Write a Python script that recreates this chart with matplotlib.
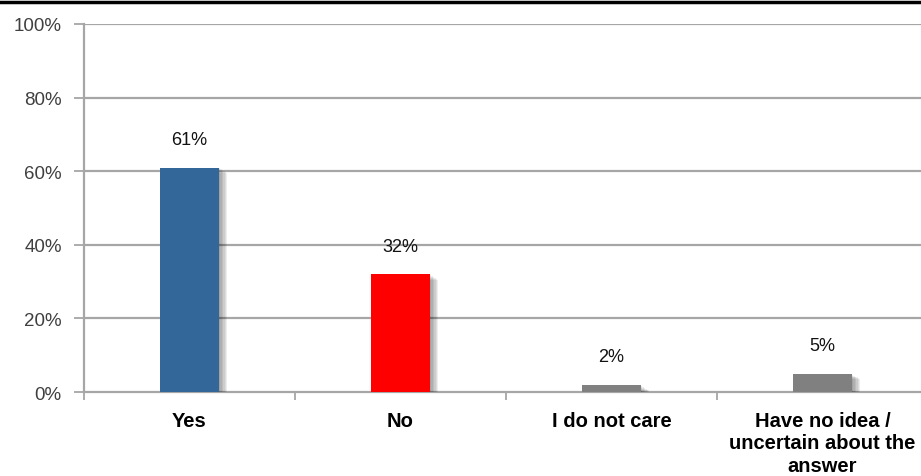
import matplotlib
matplotlib.use("Agg")
import matplotlib.pyplot as plt
import matplotlib.patheffects as pe
from matplotlib.lines import Line2D
import numpy as np

categories = ["Yes", "No", "I do not care", "Have no idea /\nuncertain about the\nanswer"]
values = [61, 32, 2, 5]
colors = ["#336699", "#FF0000", "#808080", "#808080"]
yticks = [0, 20, 40, 60, 80, 100]
ytick_labels = ["0%", "20%", "40%", "60%", "80%", "100%"]

W, H = 921, 477
fig = plt.figure(figsize=(W / 100, H / 100), dpi=100)

# axes frame in pixel coordinates
left, right, top, bottom = 84, 928, 25, 393
ax = fig.add_axes([left / W, 1 - bottom / H, (right - left) / W, (bottom - top) / H])

x = np.arange(len(categories))
grid_col = "#A6A6A6"

ax.set_xlim(-0.5, len(categories) - 0.5)
ax.set_ylim(0, 100)
ax.set_yticks(yticks)
ax.set_yticklabels(ytick_labels, fontsize=13.5, color="#404040", family="Liberation Sans")
for yv in yticks[1:]:
    ax.axhline(yv, color=grid_col, lw=1.6, zorder=0)

# soft shadow behind each bar
shadow = [pe.SimplePatchShadow(offset=(d, -d * 0.7), shadow_rgbFace="#000000", alpha=0.07)
          for d in (1, 2, 3, 4, 5, 6)]
bars = ax.bar(x, values, width=0.28, color=colors, zorder=3)
for b in bars:
    b.set_path_effects(shadow + [pe.Normal()])

for xi, v in zip(x, values):
    ax.annotate(f"{v}%", (xi, v), xytext=(0, 20), textcoords="offset points",
                ha="center", va="center", fontsize=13, color="#111111",
                family="Liberation Sans")

ax.set_xticks(x)
ax.set_xticklabels(categories, fontsize=14.5, fontweight="bold", color="#000000",
                   family="Liberation Sans", linespacing=1.23, va="top")
ax.tick_params(axis="x", which="major", length=0, pad=13.5)
ax.set_xticks(np.arange(-0.5, len(categories), 1.0), minor=True)
ax.tick_params(axis="x", which="minor", length=6, width=1.3, color=grid_col)
ax.tick_params(axis="y", length=7, width=1.3, color=grid_col, pad=9)

for s in ("top", "right"):
    ax.spines[s].set_visible(False)
for s in ("left", "bottom"):
    ax.spines[s].set_color(grid_col)
    ax.spines[s].set_linewidth(1.6)

# black rule across the top of the figure
fig.add_artist(Line2D([0, 1], [1 - 3 / H, 1 - 3 / H], color="black", lw=2.5,
                      transform=fig.transFigure))

fig.savefig("out.png", dpi=100)
